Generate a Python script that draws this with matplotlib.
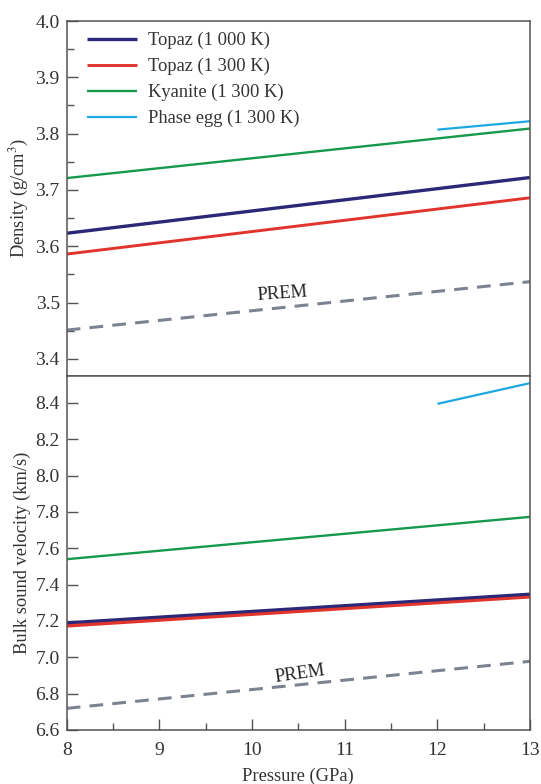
import numpy as np
import matplotlib
matplotlib.use('Agg')
import matplotlib.pyplot as plt
from matplotlib.ticker import MultipleLocator

################################## DATA ##################################

pressure = [8, 13]
pressure_egg = [12, 13]

# density (g/cm^3)
rho_topaz_1000 = [3.623, 3.722]
rho_topaz_1300 = [3.586, 3.686]
rho_kyanite = [3.721, 3.809]
rho_egg = [3.807, 3.822]
rho_prem = [3.451, 3.537]

# bulk sound velocity (km/s)
vb_topaz_1000 = [7.19, 7.348]
vb_topaz_1300 = [7.175, 7.335]
vb_kyanite = [7.54, 7.773]
vb_egg = [8.395, 8.509]
vb_prem = [6.719, 6.978]

labels = ['Topaz (1 000 K)', 'Topaz (1 300 K)', 'Kyanite (1 300 K)', 'Phase egg (1 300 K)']

################################## STYLE ##################################

plt.rcParams['font.family'] = ['Liberation Serif', 'DejaVu Serif']
plt.rcParams['font.size'] = 13.3
plt.rcParams['mathtext.fontset'] = 'stix'

c_navy = '#2c2878'
c_red = '#e0342c'
c_green = '#16994a'
c_cyan = '#1ea8e2'
c_prem = '#7a838f'
c_axis = '#565250'
c_text = '#333333'

fig = plt.figure(figsize=(5.41, 7.84), dpi=100)
ax1 = fig.add_axes([0.1233, 0.5208, 0.8564, 0.4524])
ax2 = fig.add_axes([0.1233, 0.0689, 0.8564, 0.4519])

################################## TOP: DENSITY ##################################

ax1.plot(pressure, rho_topaz_1000, color=c_navy, lw=2.4, label=labels[0], solid_capstyle='butt')
ax1.plot(pressure, rho_topaz_1300, color=c_red, lw=2.1, label=labels[1], solid_capstyle='butt')
ax1.plot(pressure, rho_kyanite, color=c_green, lw=1.7, label=labels[2], solid_capstyle='butt')
ax1.plot(pressure_egg, rho_egg, color=c_cyan, lw=1.6, label=labels[3], solid_capstyle='butt')
ax1.plot(pressure, rho_prem, color=c_prem, lw=2.2, ls=(0, (4.5, 3)))
ax1.text(10.33, 3.516, 'PREM', rotation=4, ha='center', va='center', color='#222222', fontsize=13.3)

ax1.set_xlim(8, 13)
ax1.set_ylim(3.37, 4.0)
ax1.yaxis.set_minor_locator(MultipleLocator(0.05))
ax1.set_yticks(np.arange(3.4, 4.01, 0.1))
ax1.set_yticklabels(['%.1f' % v for v in np.arange(3.4, 4.01, 0.1)])
ax1.tick_params(axis='x', which='both', bottom=False, labelbottom=False)
ax1.set_ylabel('Density (g/cm$^3$)', color=c_text, labelpad=3)

leg = ax1.legend(loc='upper left', frameon=False, handlelength=2.75, handletextpad=0.55,
                 labelspacing=0.47, borderaxespad=0.0, borderpad=0.0,
                 bbox_to_anchor=(0.043, 0.969))
for t in leg.get_texts():
    t.set_color(c_text)

################################## BOTTOM: VELOCITY ##################################

ax2.plot(pressure, vb_topaz_1300, color=c_red, lw=3.0, solid_capstyle='butt')
ax2.plot(pressure, vb_topaz_1000, color=c_navy, lw=2.2, solid_capstyle='butt')
ax2.plot(pressure, vb_kyanite, color=c_green, lw=1.7, solid_capstyle='butt')
ax2.plot(pressure_egg, vb_egg, color=c_cyan, lw=1.6, solid_capstyle='butt')
ax2.plot(pressure, vb_prem, color=c_prem, lw=2.2, ls=(0, (4.5, 3)))
ax2.text(10.52, 6.91, 'PREM', rotation=8, ha='center', va='center', color='#222222', fontsize=13.3)

ax2.set_xlim(8, 13)
ax2.set_ylim(6.6, 8.55)
ax2.set_yticks(np.arange(6.6, 8.41, 0.2))
ax2.set_yticklabels(['%.1f' % v for v in np.arange(6.6, 8.41, 0.2)])
ax2.xaxis.set_major_locator(MultipleLocator(1))
ax2.xaxis.set_minor_locator(MultipleLocator(0.5))
ax2.set_xlabel('Pressure (GPa)', color=c_text, labelpad=6)
ax2.set_ylabel('Bulk sound velocity (km/s)', color=c_text, labelpad=3)

################################## AXES STYLE ##################################

for ax in (ax1, ax2):
    for s in ax.spines.values():
        s.set_color(c_axis)
        s.set_linewidth(1.1)
    ax.tick_params(which='both', direction='in', color=c_axis, width=1.0,
                   labelcolor=c_text, labelsize=14, top=False, right=False)
    ax.tick_params(which='major', length=8, pad=5)
    ax.tick_params(which='minor', length=5)

ax2.tick_params(axis='x', which='major', pad=9)
ax2.tick_params(axis='y', which='minor', left=False)

plt.savefig('out.png', dpi=100)
